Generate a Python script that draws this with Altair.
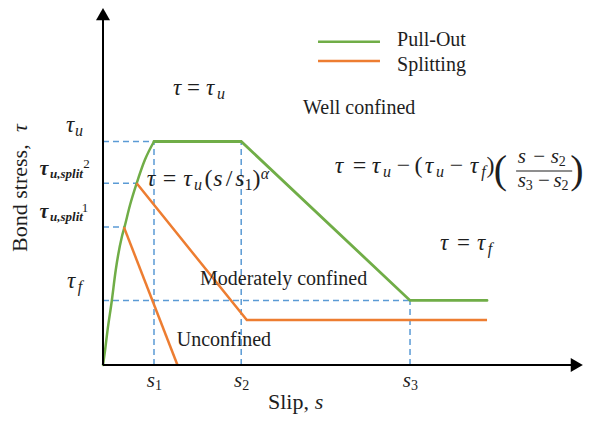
import altair as alt
import pandas as pd

# ---------------- values ----------------
# slip in units of s1, bond stress in units of tau_u
S1, S2, S3, S_END = 1.0, 2.71, 6.02, 7.53
TAU_U, TAU_SPLIT2, TAU_SPLIT1, TAU_F, TAU_RES = 1.0, 0.813, 0.617, 0.289, 0.201
S_SPLIT2, S_SPLIT1 = 0.66, 0.41          # where the splitting branches leave the ascending curve
S_RES_START, S_UNC_END = 2.82, 1.46

# Pull-out curve: ascending part read point by point up to s1 ...
rise_s = [0, 0.04, 0.09, 0.17, 0.25, 0.37, 0.42, 0.53, 0.66, 0.82, 1.0]
rise_tau = [0, 0.065, 0.157, 0.283, 0.425, 0.574, 0.616, 0.716, 0.813, 0.917, 1.0]
# ... then plateau, linear descent and residual branch
rest_s = [1.0, 2.71, 6.02, 7.53]
rest_tau = [1.0, 1.0, 0.289, 0.289]
# Splitting, moderately confined
mod_s = [S_SPLIT2, S_RES_START, S_END]
mod_tau = [TAU_SPLIT2, TAU_RES, TAU_RES]
# Splitting, unconfined
unc_s = [S_SPLIT1, S_UNC_END]
unc_tau = [TAU_SPLIT1, 0.0]

modes = ["Pull-Out", "Splitting"]

# ---------------- styling ----------------
GREEN, ORANGE, BLUE, INK = "#70AD47", "#ED7D31", "#5B9BD5", "#1e1e1e"
SERIF = "Liberation Serif"
PX_X, PX_Y = 51.0, 223.5            # pixels per data unit
PLOT_W, PLOT_H = 480, 355
XMAX, YMAX = PLOT_W / PX_X, PLOT_H / PX_Y
X_ARROW, Y_ARROW = 9.29, 1.570      # arrow-head centres
X_AXIS_END, Y_AXIS_END = 9.27, 1.575

xs = alt.Scale(domain=[0, XMAX], nice=False, zero=False)
ys = alt.Scale(domain=[0, YMAX], nice=False, zero=False)


def X(f):
    return alt.X(f, type="quantitative", scale=xs, axis=None)


def Y(f):
    return alt.Y(f, type="quantitative", scale=ys, axis=None)


color = alt.Color("mode:N", scale=alt.Scale(domain=modes, range=[GREEN, ORANGE]), legend=None)

# ---------------- tables ----------------
rows = []
for name, mode, ss, tt in [("rise", "Pull-Out", rise_s, rise_tau),
                           ("rest", "Pull-Out", rest_s, rest_tau),
                           ("mod", "Splitting", mod_s, mod_tau),
                           ("unc", "Splitting", unc_s, unc_tau)]:
    for i, (s, t) in enumerate(zip(ss, tt)):
        rows.append({"curve": name, "mode": mode, "s": s, "tau": t, "i": i})
curves = pd.DataFrame(rows)

guides = pd.DataFrame([
    {"x": 0, "x2": S1, "y": TAU_U, "y2": TAU_U},
    {"x": 0, "x2": S_SPLIT2, "y": TAU_SPLIT2, "y2": TAU_SPLIT2},
    {"x": 0, "x2": S_SPLIT1, "y": TAU_SPLIT1, "y2": TAU_SPLIT1},
    {"x": 0, "x2": S3, "y": TAU_F, "y2": TAU_F},
    {"x": S1, "x2": S1, "y": 0, "y2": TAU_U},
    {"x": S2, "x2": S2, "y": 0, "y2": TAU_U},
    {"x": S3, "x2": S3, "y": 0, "y2": TAU_F},
])

axes_df = pd.DataFrame([
    {"x": 0, "x2": X_AXIS_END, "y": 0, "y2": 0},
    {"x": 0, "x2": 0, "y": 0, "y2": Y_AXIS_END},
])
heads = pd.DataFrame([
    {"x": 0, "y": Y_ARROW, "shape": "triangle-up"},
    {"x": X_ARROW, "y": 0, "shape": "triangle-right"},
])

legend_df = pd.DataFrame([
    {"mode": "Pull-Out", "x": 4.216, "x2": 5.431, "y": 1.446, "tx": 5.765, "ty": 1.429},
    {"mode": "Splitting", "x": 4.216, "x2": 5.431, "y": 1.360, "tx": 5.765, "ty": 1.317},
])

fraction_bar = pd.DataFrame([{"x": 8.10, "x2": 9.20, "y": 0.868}])

# text tokens: text, x, y(baseline), size, style, align
toks = []


def tok(text, x, y, size, style, align="center", angle=0):
    toks.append({"text": text, "x": x, "y": y, "size": size, "style": style,
                 "align": align, "angle": angle})


# plain labels
tok("Well confined", 3.922, 1.123, 20, "roman", "left")
tok("Moderately confined", 1.902, 0.356, 20, "roman", "left")
tok("Unconfined", 1.445, 0.083, 20, "roman", "left")
tok("Slip,", 3.235, -0.197, 22, "roman", "left")
tok("s", 4.235, -0.197, 22, "it")
tok("Bond stress,", -1.49, 0.506, 22, "roman", "left", 270)
tok("τ", -1.49, 1.060, 22, "it", "center", 270)

# tau = tau_u
tok("τ", 1.451, 1.208, 23, "it"); tok("=", 1.775, 1.208, 23, "up")
tok("τ", 2.098, 1.208, 23, "it"); tok("u", 2.314, 1.190, 16, "it")

# tau = tau_u (s/s1)^alpha
m, sb = 0.801, 0.783
tok("τ", 0.941, m, 24, "it"); tok("=", 1.304, m, 24, "up")
tok("τ", 1.657, m, 24, "it"); tok("u", 1.863, sb, 16, "it")
tok("(", 2.069, m, 24, "up"); tok("s", 2.255, m, 24, "it")
tok("/", 2.471, m, 24, "up"); tok("s", 2.686, m, 24, "it")
tok("1", 2.853, sb, 16, "up"); tok(")", 3.010, m, 24, "up")
tok("α", 3.176, 0.832, 16, "it")

# tau = tau_u - (tau_u - tau_f)((s - s2)/(s3 - s2))
m, sb = 0.859, 0.841
tok("τ", 4.627, m, 24, "it"); tok("=", 5.029, m, 24, "up")
tok("τ", 5.353, m, 24, "it"); tok("u", 5.569, sb, 16, "it")
tok("−", 5.892, m, 24, "up"); tok("(", 6.186, m, 24, "up")
tok("τ", 6.392, m, 24, "it"); tok("u", 6.608, sb, 16, "it")
tok("−", 6.931, m, 24, "up"); tok("τ", 7.275, m, 24, "it")
tok("f", 7.461, sb, 16, "it"); tok(")", 7.598, m, 24, "up")
tok("(", 7.790, 0.814, 40, "up"); tok(")", 9.290, 0.814, 40, "up")
n, nsb = 0.904, 0.890
tok("s", 8.215, n, 21, "it"); tok("−", 8.550, n, 21, "up")
tok("s", 8.860, n, 21, "it"); tok("2", 9.005, nsb, 14, "up")
d, dsb = 0.796, 0.783
tok("s", 8.215, d, 21, "it"); tok("3", 8.360, dsb, 14, "up")
tok("−", 8.645, d, 21, "up"); tok("s", 8.915, d, 21, "it")
tok("2", 9.060, dsb, 14, "up")

# tau = tau_f
tok("τ", 6.686, 0.515, 23, "it"); tok("=", 7.069, 0.515, 23, "up")
tok("τ", 7.412, 0.515, 23, "it"); tok("f", 7.588, 0.497, 16, "it")

# stress labels on the left
tok("τ", -0.647, 1.0425, 23, "it"); tok("u", -0.471, 1.025, 16, "it")
tok("τ", -1.157, 0.850, 20, "bi"); tok("u,split", -0.716, 0.837, 13, "bi")
tok("2", -0.324, 0.881, 13, "up")
tok("τ", -1.157, 0.658, 20, "bi"); tok("u,split", -0.716, 0.644, 13, "bi")
tok("1", -0.353, 0.685, 13, "up")
tok("τ", -0.627, 0.3445, 23, "it"); tok("f", -0.451, 0.327, 16, "it")

# slip labels
for k, sv in [("1", S1), ("2", S2), ("3", S3)]:
    tok("s", sv - 0.06, -0.100, 21, "it")
    tok(k, sv + 0.09, -0.114, 14, "up")

tokens = pd.DataFrame(toks)

# ---------------- layers ----------------
guide_layer = alt.Chart(guides).mark_rule(color=BLUE, strokeWidth=1.5, strokeDash=[6, 4]).encode(
    x=X("x"), x2="x2", y=Y("y"), y2="y2")

axis_layer = alt.Chart(axes_df).mark_rule(color="black", strokeWidth=2).encode(
    x=X("x"), x2="x2", y=Y("y"), y2="y2")

head_layer = alt.Chart(heads).mark_point(filled=True, color="black", size=196, opacity=1).encode(
    x=X("x"), y=Y("y"), shape=alt.Shape("shape:N", scale=None))

rise_layer = alt.Chart(curves).transform_filter(alt.datum.curve == "rise").mark_line(
    strokeWidth=2.5, interpolate="monotone", strokeCap="round").encode(
    x=X("s"), y=Y("tau"), color=color, order="i:Q")

rest_layer = alt.Chart(curves).transform_filter(alt.datum.curve == "rest").mark_line(
    strokeWidth=2.8, strokeCap="round").encode(
    x=X("s"), y=Y("tau"), color=color, order="i:Q")

split_layer = alt.Chart(curves).transform_filter(alt.datum.mode == "Splitting").mark_line(
    strokeWidth=2.5).encode(
    x=X("s"), y=Y("tau"), color=color, detail="curve:N", order="i:Q")

legend_lines = alt.Chart(legend_df).mark_rule(strokeWidth=2.5).encode(
    x=X("x"), x2="x2", y=Y("y"), color=color)
legend_text = alt.Chart(legend_df).mark_text(
    font=SERIF, fontSize=20, align="left", baseline="alphabetic", color=INK).encode(
    x=X("tx"), y=Y("ty"), text="mode:N")

bar_layer = alt.Chart(fraction_bar).mark_rule(color=INK, strokeWidth=1.2).encode(
    x=X("x"), x2="x2", y=Y("y"))

style_props = {
    "roman": {"fontStyle": "normal", "fontWeight": "normal"},
    "it": {"fontStyle": "italic", "fontWeight": "normal"},
    "up": {"fontStyle": "normal", "fontWeight": "normal"},
    "bi": {"fontStyle": "italic", "fontWeight": "bold"},
}

text_layers = []
for (style, align, angle), grp in tokens.groupby(["style", "align", "angle"]):
    text_layers.append(
        alt.Chart(grp.reset_index(drop=True)).mark_text(
            font=SERIF, baseline="alphabetic", align=align, angle=int(angle), color=INK,
            **style_props[style]).encode(
            x=X("x"), y=Y("y"), text="text:N", size=alt.Size("size:Q", scale=None))
    )

chart = alt.layer(
    guide_layer, rise_layer, rest_layer, split_layer, axis_layer, head_layer,
    legend_lines, legend_text, bar_layer, *text_layers
).properties(
    width=PLOT_W, height=PLOT_H,
    autosize=alt.AutoSizeParams(type="none"),
    padding={"left": 95, "top": 2, "right": 0, "bottom": 49},
    background="white",
).configure_view(stroke=None)

chart.save("out.html", embed_options={"renderer": "svg", "actions": False})
